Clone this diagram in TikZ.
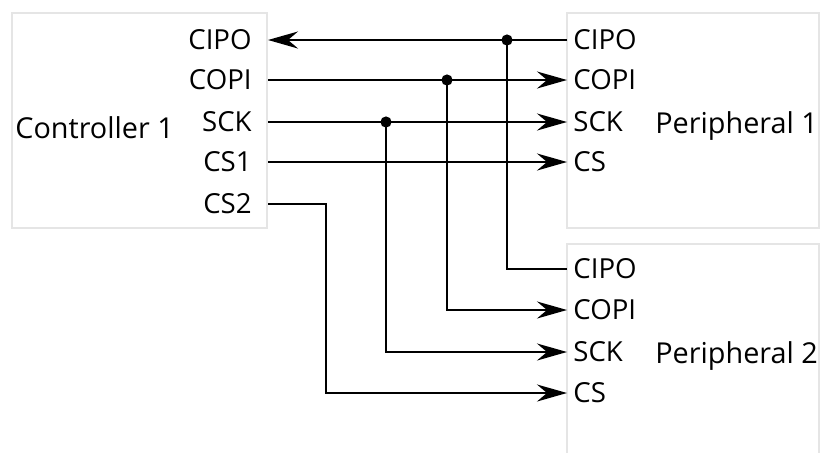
\documentclass[tikz,border=0pt]{standalone}
\usepackage{fontspec}
\setmainfont{Open Sans}
\usetikzlibrary{arrows.meta}

\begin{document}
\begin{tikzpicture}[x=0.5pt,y=-0.5pt,
  box/.style={draw=black!10,line width=0.6pt},
  title/.style={anchor=base west,inner sep=0pt,font=\fontsize{14.4}{16}\selectfont},
  lport/.style={anchor=east,inner xsep=8pt,inner ysep=0pt,font=\fontsize{13.8}{15}\selectfont},
  rport/.style={anchor=west,inner xsep=3pt,inner ysep=0pt,font=\fontsize{13.8}{15}\selectfont},
  sig/.style={line width=1.1pt},
  tip/.style={-{Stealth[length=15pt,width=8.5pt,inset=5pt]}}]
  \useasboundingbox (0,0) rectangle (821,452);

  % blocks
  \draw[box] (12,13) rectangle (267,228);
  \draw[box] (567,13) rectangle (819,228);
  \draw[box] (567,244) rectangle (819,470);
  \node[title] (ctrl) at (15,138) {Controller 1};
  \node[title] (per1) at (655,133) {Peripheral 1};
  \node[title] (per2) at (655,363) {Peripheral 2};

  % controller pins
  \node[lport] (c-cipo) at (268,40)  {CIPO};
  \node[lport] (c-copi) at (268,80)  {COPI};
  \node[lport] (c-sck)  at (268,122) {SCK};
  \node[lport] (c-cs1)  at (268,162) {CS1};
  \node[lport] (c-cs2)  at (268,204) {CS2};

  % peripheral pins
  \node[rport] (p1-cipo) at (567,40)  {CIPO};
  \node[rport] (p1-copi) at (567,80)  {COPI};
  \node[rport] (p1-sck)  at (567,122) {SCK};
  \node[rport] (p1-cs)   at (567,162) {CS};
  \node[rport] (p2-cipo) at (567,269) {CIPO};
  \node[rport] (p2-copi) at (567,310) {COPI};
  \node[rport] (p2-sck)  at (567,352) {SCK};
  \node[rport] (p2-cs)   at (567,393) {CS};

  % bus junctions
  \coordinate (j-cipo) at (507,40);
  \coordinate (j-copi) at (447,80);
  \coordinate (j-sck)  at (386,122);
  \coordinate (b-cs2)  at (326,204);

  % shared lines
  \draw[sig,tip] (p1-cipo) -- (c-cipo);
  \draw[sig] (p2-cipo) -| (j-cipo);
  \draw[sig,tip] (c-copi) -- (p1-copi);
  \draw[sig,tip] (j-copi) |- (p2-copi);
  \draw[sig,tip] (c-sck) -- (p1-sck);
  \draw[sig,tip] (j-sck) |- (p2-sck);
  \foreach \j in {j-cipo,j-copi,j-sck}
    \fill (\j) circle (2.8pt);

  % chip selects
  \draw[sig,tip] (c-cs1) -- (p1-cs);
  \draw[sig,tip] (c-cs2) -- (b-cs2) |- (p2-cs);
\end{tikzpicture}
\end{document}
